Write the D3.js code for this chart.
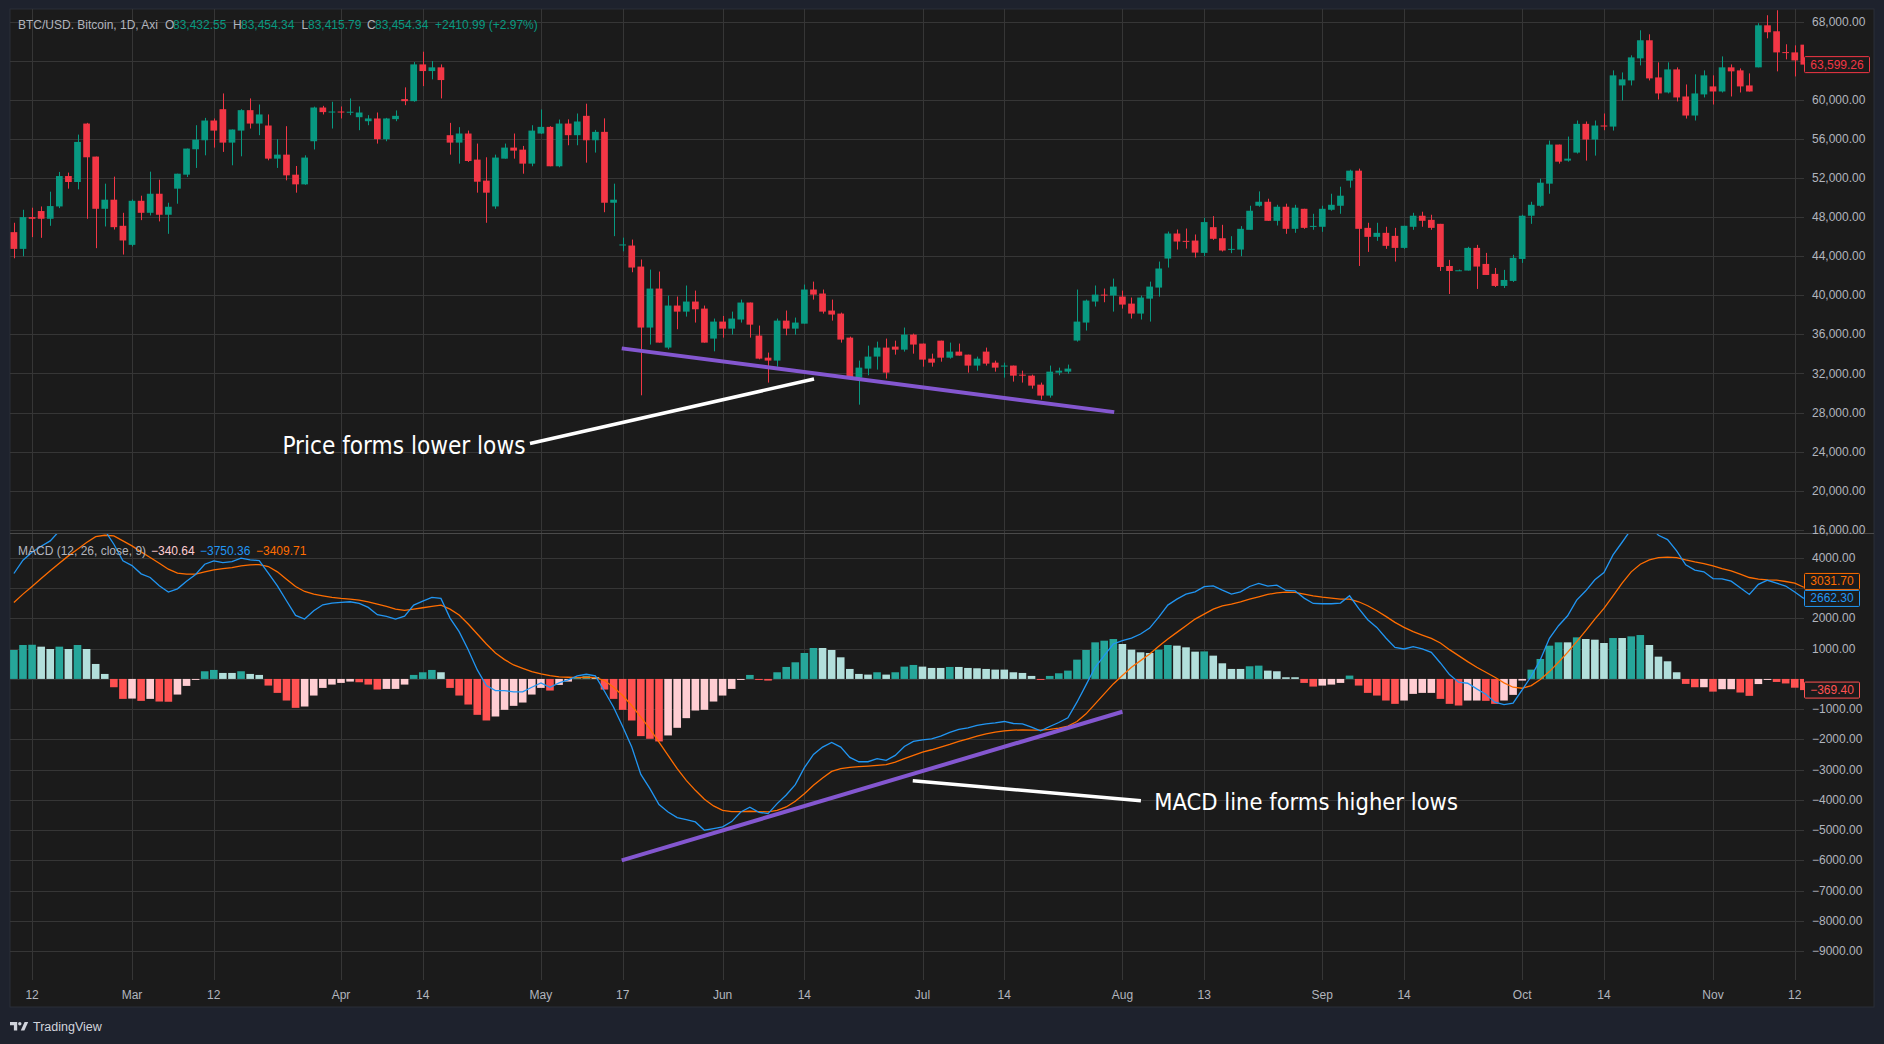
<!DOCTYPE html>
<html><head><meta charset="utf-8">
<script src="https://cdn.jsdelivr.net/npm/d3@7"></script>
<style>html,body{margin:0;padding:0;background:#1e222d;overflow:hidden}svg{display:block}</style>
</head><body><svg id="c" width="1884" height="1044"></svg>
<script>
// ---- DATA (prices in thousands USD, one bar per trading day, 10 Feb – 15 Nov 2021) ----
const opens = [
46.46,44.75,48.00,48.62,47.83,49.09,52.20,51.59,57.57,54.19,
48.85,49.78,47.11,45.16,49.67,48.44,50.39,48.24,50.91,52.34,
54.94,55.86,57.88,59.04,55.62,56.85,58.94,57.57,57.37,53.98,
54.39,52.34,51.35,55.76,59.21,58.70,58.80,58.75,58.22,57.81,
58.09,55.97,58.02,60.07,59.86,63.62,62.94,63.32,56.38,55.62,
56.55,53.88,51.73,49.09,53.98,55.11,54.90,53.47,56.55,57.23,
53.20,57.57,56.38,58.36,55.86,56.72,49.47,45.10,45.09,42.94,
36.70,40.69,34.65,38.95,38.33,39.36,38.64,35.57,37.31,36.59,
37.52,39.26,35.88,33.62,33.32,37.41,36.59,37.10,40.59,40.18,
38.44,38.13,35.67,31.58,32.50,33.73,34.65,34.75,34.44,35.98,
35.06,33.52,35.36,33.62,34.24,33.93,32.81,34.24,33.11,32.77,
32.81,31.88,31.78,30.86,29.74,32.09,32.19,35.37,37.21,39.36,
40.07,39.97,39.87,39.15,38.13,39.66,40.79,43.76,46.32,45.57,
45.60,44.34,46.97,45.84,44.73,44.68,46.70,49.16,49.57,47.62,
49.06,46.80,48.85,47.00,47.01,48.75,49.16,51.73,52.75,46.90,
45.98,46.39,46.08,44.85,47.01,48.14,47.72,47.31,43.00,42.50,
42.53,44.85,43.21,42.19,40.96,41.47,43.72,48.14,49.16,51.42,
55.42,53.78,54.60,57.54,55.93,57.37,57.26,61.47,61.98,64.24,
66.09,62.29,60.75,63.11,60.34,58.39,60.55,61.37,60.85,63.32,
63.01,61.47,63.32,67.62,67.01,64.88,64.85,65.64];
const highs = [
47.42,48.75,48.96,49.09,50.60,52.62,52.55,56.44,57.64,54.19,
51.42,52.14,48.44,49.80,50.19,52.65,51.83,49.47,52.44,55.01,
57.40,58.15,58.09,60.65,56.96,59.04,60.14,59.52,58.50,55.97,
57.30,53.23,54.32,59.30,59.38,59.80,59.32,60.14,59.32,58.43,
58.70,58.15,58.91,61.27,63.86,64.92,63.97,63.62,57.64,57.20,
56.85,55.52,54.12,54.39,55.52,56.55,55.28,57.40,59.01,57.30,
57.98,58.00,58.60,59.60,56.92,58.10,51.42,45.90,45.70,43.66,
42.63,42.43,39.97,39.87,41.00,40.48,38.95,37.62,37.89,38.33,
39.56,39.26,36.90,34.14,37.62,38.44,37.72,41.10,41.40,40.59,
39.56,38.23,35.77,33.32,34.85,35.26,35.57,35.36,36.70,36.08,
35.06,34.03,35.36,35.16,35.06,33.93,33.73,34.65,33.32,33.11,
32.81,32.29,31.88,31.07,32.81,32.60,32.91,40.59,39.56,41.00,
40.69,41.71,40.48,39.77,39.97,41.40,43.45,46.52,46.73,46.83,
46.22,47.93,48.10,47.21,46.05,47.08,49.16,50.63,49.88,49.26,
49.37,49.26,48.85,48.34,49.16,50.39,51.11,52.85,52.96,47.42,
47.42,47.01,46.90,47.11,48.44,48.55,48.24,47.31,43.62,42.63,
44.96,45.16,44.34,42.80,42.60,44.14,48.24,49.57,51.93,55.83,
55.42,56.24,57.88,57.78,57.88,58.60,63.01,62.80,64.55,67.11,
66.70,63.83,63.83,63.32,61.57,62.60,63.01,62.50,64.44,63.62,
63.21,62.70,67.83,68.65,69.16,65.68,65.57,65.70];
const lows = [
43.79,44.00,45.95,45.88,47.11,48.92,50.91,50.84,47.83,44.82,
47.04,46.73,44.17,45.00,47.69,48.17,47.56,46.29,49.37,52.10,
53.03,54.32,55.11,54.67,53.30,54.22,57.06,56.38,53.81,53.03,
51.76,50.50,51.30,54.92,58.50,57.06,58.09,58.43,56.89,57.40,
55.52,55.76,57.81,59.45,59.80,61.40,62.09,60.14,54.39,53.47,
53.64,50.50,47.42,48.85,53.98,53.98,52.44,53.20,56.50,53.20,
53.10,55.35,55.35,53.57,54.60,48.50,46.05,44.50,42.36,29.77,
34.96,35.16,34.48,36.53,37.82,37.21,35.16,34.27,35.67,35.98,
37.21,35.67,33.45,31.07,32.70,35.91,35.98,37.10,39.56,38.13,
37.41,35.16,31.37,28.81,31.82,32.40,31.48,33.93,34.24,34.03,
32.70,32.70,33.21,33.52,33.83,32.09,32.29,32.81,32.19,31.58,
31.17,31.07,30.45,29.33,29.53,31.82,31.98,35.26,36.39,38.85,
39.29,38.33,38.64,37.62,37.52,37.31,39.87,42.84,44.68,44.78,
43.86,44.00,45.67,44.48,44.31,44.00,46.70,49.06,47.62,47.14,
46.29,46.39,46.80,46.70,46.49,48.65,48.34,51.01,43.00,44.44,
45.57,44.75,43.45,44.75,46.70,47.01,46.70,42.49,40.13,42.49,
42.53,40.65,42.08,40.85,40.75,41.37,43.31,47.31,49.06,50.39,
53.47,53.67,54.50,53.78,54.29,56.89,56.85,59.93,61.47,63.52,
61.98,60.03,60.65,59.83,58.08,57.88,60.24,59.52,60.75,60.34,
60.75,60.85,63.32,66.29,62.91,64.14,62.39,63.50];
const closes = [
44.75,48.00,47.83,47.83,49.13,52.20,51.59,55.69,54.12,48.85,
49.78,46.97,45.61,49.67,48.44,50.39,48.24,49.06,52.44,55.01,
55.93,57.88,56.85,55.62,56.96,58.94,57.57,58.50,53.98,54.39,
52.27,51.35,54.09,59.21,58.74,58.80,58.72,58.78,58.70,58.09,
55.97,58.09,58.36,59.86,63.62,62.94,63.32,62.02,55.62,56.55,
53.74,51.62,50.50,54.09,55.11,54.80,53.47,56.85,57.23,53.20,
57.57,56.38,57.78,55.86,56.72,49.47,49.78,45.20,42.84,36.70,
40.69,35.16,38.95,38.33,39.36,38.57,35.16,37.31,36.59,37.62,
39.26,37.00,33.52,33.32,37.41,36.59,37.21,40.59,40.07,38.33,
38.03,35.47,31.58,32.60,33.73,34.65,32.09,34.44,35.98,34.96,
33.42,33.11,33.62,34.24,33.83,32.81,33.52,33.01,32.60,32.81,
31.78,31.85,30.76,29.74,32.19,32.29,32.50,37.31,39.46,40.07,
40.00,40.89,39.05,38.13,39.77,40.89,42.74,46.32,45.50,45.53,
44.37,47.49,45.78,44.58,44.75,46.80,48.65,49.57,47.62,49.06,
46.80,48.96,46.90,47.10,48.85,49.26,50.19,52.75,46.80,45.98,
46.39,45.06,44.85,47.11,48.14,47.62,46.90,42.90,42.49,42.56,
44.85,42.94,42.08,40.96,41.57,43.83,48.14,49.26,51.52,55.42,
53.67,53.98,57.54,55.93,57.37,57.33,62.50,62.09,64.34,66.09,
62.19,60.65,63.11,60.24,58.39,60.65,62.50,60.85,63.32,62.91,
61.37,60.85,67.62,66.91,64.85,64.85,64.03,63.60];

// MACD (12, 26, close, 9) values per bar
const macdLine = [
3487,3927,4188,4389,4565,4895,5060,5412,5500,5203,
4917,4455,3905,3750,3476,3355,3080,2875,2981,3234,
3454,3795,3905,3850,3883,3993,3938,3916,3498,3080,
2585,2101,1980,2255,2453,2508,2530,2552,2497,2365,
2123,2068,1980,2079,2442,2574,2695,2662,2013,1562,
968,297,-220,-385,-385,-429,-429,-275,-132,-275,
-132,-33,99,154,99,-407,-935,-1573,-2255,-3157,
-3630,-4158,-4400,-4587,-4653,-4730,-5005,-4950,-4895,-4719,
-4400,-4246,-4411,-4455,-4125,-3839,-3498,-2937,-2497,-2255,
-2101,-2255,-2596,-2739,-2739,-2640,-2695,-2530,-2233,-2068,
-2013,-1980,-1892,-1771,-1672,-1617,-1540,-1485,-1452,-1408,
-1474,-1485,-1595,-1716,-1573,-1441,-1287,-770,-198,385,
770,1155,1265,1353,1485,1683,2046,2442,2640,2805,
2882,3055,3080,2937,2805,2882,3058,3157,3069,3102,
2926,2915,2673,2497,2486,2486,2508,2750,2332,1958,
1705,1353,1045,990,1067,990,880,528,143,-110,
-143,-330,-505,-770,-847,-803,-363,88,638,1342,
1760,2090,2607,2915,3278,3520,4103,4521,4950,5247,
5060,4752,4609,4235,3773,3597,3542,3320,3312,3235,
3015,2795,3130,3263,3167,3073,2878,2662.30];
const signalLine = [
2530,2805,3058,3322,3575,3828,4070,4290,4510,4708,
4752,4730,4565,4400,4202,4015,3828,3630,3498,3465,
3465,3542,3608,3652,3685,3740,3773,3784,3718,3542,
3300,3058,2893,2805,2750,2695,2662,2640,2607,2552,
2475,2398,2310,2266,2310,2354,2398,2442,2310,2112,
1815,1485,1155,858,638,462,352,242,165,110,
66,55,44,55,44,-55,-275,-550,-880,-1265,
-1650,-2090,-2530,-2970,-3355,-3685,-3982,-4202,-4345,-4389,
-4389,-4378,-4389,-4400,-4345,-4235,-4048,-3795,-3520,-3278,
-3058,-2970,-2926,-2904,-2882,-2860,-2838,-2750,-2640,-2530,
-2420,-2343,-2255,-2167,-2068,-1980,-1892,-1815,-1760,-1716,
-1694,-1683,-1694,-1694,-1672,-1628,-1562,-1408,-1155,-825,
-495,-165,110,385,605,825,1078,1320,1540,1760,
1980,2145,2310,2420,2475,2552,2640,2717,2794,2849,
2871,2860,2805,2750,2706,2673,2640,2640,2552,2420,
2255,2068,1870,1705,1562,1452,1342,1188,968,770,
572,385,220,55,-132,-275,-308,-220,-22,242,
550,880,1232,1595,1980,2332,2750,3168,3542,3795,
3938,4015,4026,4015,3938,3872,3817,3740,3652,3575,
3465,3355,3300,3278,3267,3223,3168,3031.70];
const histogram = [
957,1122,1130,1067,990,1067,990,1122,990,495,
165,-275,-660,-650,-726,-660,-748,-755,-517,-231,
-11,253,297,198,198,253,165,132,-220,-462,
-715,-957,-913,-550,-297,-187,-132,-88,-110,-187,
-352,-330,-330,-187,132,220,297,220,-297,-550,
-847,-1188,-1375,-1243,-1023,-891,-781,-517,-297,-385,
-198,-88,55,99,55,-352,-660,-1023,-1375,-1892,
-1980,-2068,-1870,-1617,-1298,-1045,-1023,-748,-550,-330,
-11,132,-22,-55,220,396,550,858,1023,1023,
957,715,330,165,143,220,143,220,407,462,
407,363,363,396,396,363,352,330,308,308,
220,198,99,-22,99,187,275,638,957,1210,
1265,1320,1155,968,880,858,968,1122,1100,1045,
902,910,770,517,330,330,418,440,275,253,
55,55,-132,-253,-220,-187,-132,110,-220,-462,
-550,-715,-825,-715,-495,-462,-462,-660,-825,-880,
-715,-715,-725,-825,-715,-528,-55,308,660,1100,
1210,1210,1375,1320,1298,1188,1353,1353,1408,1452,
1122,737,583,220,-165,-275,-275,-420,-340,-340,
-450,-560,-170,-15,-100,-150,-290,-369.40];

// time axis: labels and the bar index each sits on
const tickLabels = ["12","Mar","12","Apr","14","May","17","Jun","14","Jul","14","Aug","13","Sep","14","Oct","14","Nov","12"];
const tickIndex  = [2,13,22,36,45,58,67,78,87,100,109,122,131,144,153,166,175,187,196];
const priceTicks = [68000,64000,60000,56000,52000,48000,44000,40000,36000,32000,28000,24000,20000,16000];
const macdTicks  = [4000,3000,2000,1000,0,-1000,-2000,-3000,-4000,-5000,-6000,-7000,-8000,-9000];

// drawings: [barIndex, value]
const priceTrend = [[66.9,34570],[121.1,28050]];
const macdTrend  = [[66.9,-6000],[122.0,-1085]];
const priceCallout = [[56.8,24840],[88.06,31440]];
const macdCallout  = [[98.93,-3368],[124.04,-4029]];
const priceNote = {i:56.3, v:24580, text:"Price forms lower lows"};
const macdNote  = {i:125.5, v:-4060, text:"MACD line forms higher lows"};
const lastPrice = 63599.26;

// ---- LAYOUT ----
const svg = d3.select("#c");
const PX0=10, PY0=9, PX1=1874, PY1=1007, PLOT_R=1804, SEP=533, MACD_BOT=975;
const BG="#1b1b1b", GRID="#363636", TXT="#b2b5be";
const UP="#089981", DN="#f23645";
const BLUE="#2196f3", ORANGE="#ff6d00";
const FONT="'Liberation Sans', Arial, sans-serif";

const n = closes.length;
const x  = d3.scaleLinear().domain([0, n-1]).range([13.9, 13.9 + (n-1)*9.086]);
const yP = d3.scaleLinear().domain([16000, 68000]).range([529.9, 21.6]);
const yM = d3.scaleLinear().domain([-9000, 4000]).range([951, 558]);
const px = v => Math.round(v) + 0.5;

svg.append("rect").attr("width",1884).attr("height",1044).attr("fill","#1e222d");
svg.append("rect").attr("x",PX0).attr("y",PY0).attr("width",PX1-PX0).attr("height",PY1-PY0)
   .attr("fill",BG).attr("stroke","#2a2e39").attr("stroke-width",1);

const defs = svg.append("defs");
defs.append("clipPath").attr("id","cp").append("rect").attr("x",PX0).attr("y",PY0).attr("width",PLOT_R-PX0).attr("height",SEP-PY0);
defs.append("clipPath").attr("id","cm").append("rect").attr("x",PX0).attr("y",SEP+1).attr("width",PLOT_R-PX0).attr("height",MACD_BOT-SEP-1);

// grid
const g = svg.append("g").attr("stroke",GRID).attr("stroke-width",1);
tickIndex.forEach(i => g.append("line").attr("x1",px(x(i))).attr("x2",px(x(i))).attr("y1",PY0).attr("y2",980));
priceTicks.forEach(t => g.append("line").attr("x1",PX0).attr("x2",PLOT_R).attr("y1",px(yP(t))).attr("y2",px(yP(t))));
macdTicks.forEach(t => g.append("line").attr("x1",PX0).attr("x2",PLOT_R).attr("y1",px(yM(t))).attr("y2",px(yM(t))));

// candles
const cg = svg.append("g").attr("clip-path","url(#cp)");
const bw = 6.7;
d3.range(n).forEach(i => {
  const o=opens[i]*1000, h=highs[i]*1000, l=lows[i]*1000, c=closes[i]*1000;
  const col = c >= o ? UP : DN;
  const cx = x(i);
  cg.append("line").attr("x1",px(cx)).attr("x2",px(cx)).attr("y1",yP(h)).attr("y2",yP(l)).attr("stroke",col).attr("stroke-width",1);
  const top = Math.min(yP(o),yP(c)), hh = Math.max(1, Math.abs(yP(o)-yP(c)));
  cg.append("rect").attr("x",cx-bw/2).attr("y",top).attr("width",bw).attr("height",hh).attr("fill",col);
});

// MACD pane
const mg = svg.append("g").attr("clip-path","url(#cm)");
const hw = 7.6;
histogram.forEach((hv,i) => {
  const prev = i>0 ? histogram[i-1] : 0;
  let col;
  if (hv >= 0) col = hv > prev ? "#26a69a" : "#b2dfdb";
  else col = hv < prev ? "#ff5252" : "#ffcdd2";
  const y0 = yM(0), y1 = yM(hv);
  mg.append("rect").attr("x",x(i)-hw/2).attr("y",Math.min(y0,y1)).attr("width",hw)
    .attr("height",Math.max(1,Math.abs(y1-y0))).attr("fill",col);
});
const lineGen = arr => d3.line().x((d,i)=>x(i)).y(d=>yM(d))(arr);
mg.append("path").attr("d",lineGen(signalLine)).attr("fill","none").attr("stroke",ORANGE).attr("stroke-width",1.3);
mg.append("path").attr("d",lineGen(macdLine)).attr("fill","none").attr("stroke",BLUE).attr("stroke-width",1.3);

// pane separator
svg.append("line").attr("x1",PX0).attr("x2",PX1).attr("y1",SEP+0.5).attr("y2",SEP+0.5).attr("stroke","#4a4a4a");

// drawings
const PURPLE="#8457d0";
const seg = (pts, ys, col, w) => svg.append("line")
  .attr("x1",x(pts[0][0])).attr("y1",ys(pts[0][1])).attr("x2",x(pts[1][0])).attr("y2",ys(pts[1][1]))
  .attr("stroke",col).attr("stroke-width",w);
seg(priceTrend, yP, PURPLE, 4);
seg(macdTrend, yM, PURPLE, 4);
seg(priceCallout, yP, "#ffffff", 3.5);
seg(macdCallout, yM, "#ffffff", 3.5);

function fit(sel, target){
  const w = sel.node().getComputedTextLength();
  if (w>0) sel.attr("font-size", parseFloat(sel.attr("font-size"))*target/w);
}
const ANN="'DejaVu Sans Condensed','DejaVu Sans',sans-serif";
const t1 = svg.append("text").attr("x",x(priceNote.i)).attr("y",yP(priceNote.v)).attr("text-anchor","end")
  .attr("dominant-baseline","central").attr("fill","#ffffff").attr("font-family",ANN).attr("font-size",22).text(priceNote.text);
fit(t1, 243);
const t2 = svg.append("text").attr("x",x(macdNote.i)).attr("y",yM(macdNote.v)).attr("text-anchor","start")
  .attr("dominant-baseline","central").attr("fill","#ffffff").attr("font-family",ANN).attr("font-size",22).text(macdNote.text);
fit(t2, 304);

// value boxes (positions from scales, de-overlapped)
const fP = d3.format(",.2f"), fM = d3.format(".2f");
const pBox = {y:yP(lastPrice), t:fP(lastPrice), c:DN, w:65};
const mBoxes = [
  {y:yM(signalLine[n-1]), t:fM(signalLine[n-1]), c:ORANGE, w:55},
  {y:yM(macdLine[n-1]),   t:fM(macdLine[n-1]),   c:BLUE, w:55},
  {y:yM(histogram[n-1]),  t:fM(histogram[n-1]),  c:"#ff5252", w:55}
].sort((a,b)=>a.y-b.y);
for (let k=mBoxes.length-2;k>=0;k--){ if (mBoxes[k+1].y - mBoxes[k].y < 17) mBoxes[k].y = mBoxes[k+1].y - 17; }
const allBoxes = [pBox].concat(mBoxes);

// axis labels (labels hidden behind a value box are not drawn, as on the platform)
const AX = 1812;
const covered = yy => allBoxes.some(b => Math.abs(b.y - yy) < 12);
priceTicks.forEach(t => { if (covered(yP(t))) return;
  svg.append("text").attr("x",AX).attr("y",yP(t)).attr("dominant-baseline","central")
  .attr("fill",TXT).attr("font-family",FONT).attr("font-size",12).text(fP(t)); });
macdTicks.forEach(t => { if (covered(yM(t))) return;
  svg.append("text").attr("x",AX).attr("y",yM(t)).attr("dominant-baseline","central")
  .attr("fill",TXT).attr("font-family",FONT).attr("font-size",12).text(fM(t)); });
tickLabels.forEach((lab,k) => svg.append("text").attr("x",x(tickIndex[k])).attr("y",995).attr("text-anchor","middle")
  .attr("dominant-baseline","central").attr("fill",TXT).attr("font-family",FONT).attr("font-size",12).text(lab));

allBoxes.forEach(b => {
  const gb = svg.append("g");
  gb.append("rect").attr("x",1804.5).attr("y",b.y-8).attr("width",b.w).attr("height",16).attr("rx",1)
    .attr("fill",BG).attr("stroke",b.c).attr("stroke-width",1);
  gb.append("text").attr("x",1804.5+b.w/2).attr("y",b.y).attr("text-anchor","middle").attr("dominant-baseline","central")
    .attr("fill",b.c).attr("font-family",FONT).attr("font-size",12).text(b.t);
});

// header / legend
const hdr = svg.append("g").attr("font-family",FONT).attr("font-size",12).attr("dominant-baseline","central");
[["BTC/USD. Bitcoin, 1D, Axi",18,TXT],["O",165,TXT],["83,432.55",173,UP],["H",233,TXT],["83,454.34",241,UP],
 ["L",301.5,TXT],["83,415.79",308,UP],["C",367,TXT],["83,454.34",375,UP],["+2410.99 (+2.97%)",435,UP]]
 .forEach(s => hdr.append("text").attr("x",s[1]).attr("y",25).attr("fill",s[2]).text(s[0]));
const lg = svg.append("g").attr("font-family",FONT).attr("font-size",12).attr("dominant-baseline","central");
[["MACD (12, 26, close, 9)",18,TXT],["\u2212340.64",151,"#ffcdd2"],["\u22123750.36",200,BLUE],["\u22123409.71",256,ORANGE]]
 .forEach(s => lg.append("text").attr("x",s[1]).attr("y",551).attr("fill",s[2]).text(s[0]));

// TradingView logo
const logo = svg.append("g").attr("fill","#d1d4dc");
logo.append("path").attr("d","M10 1022 h7.2 v8.6 h-3.3 v-5.3 h-3.9 z");
logo.append("circle").attr("cx",19.8).attr("cy",1023.7).attr("r",1.7);
logo.append("path").attr("d","M24.6 1022 h3.6 l-3.8 8.6 h-3.6 z");
svg.append("text").attr("x",33).attr("y",1027).attr("dominant-baseline","central").attr("fill","#d1d4dc")
  .attr("font-family",FONT).attr("font-size",12.5).text("TradingView");
</script>
</body></html>
